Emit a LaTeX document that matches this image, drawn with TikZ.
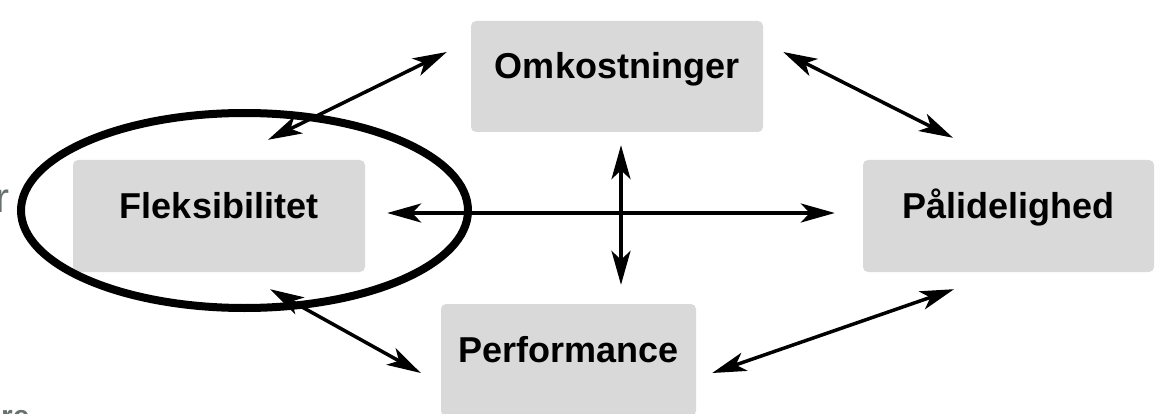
\documentclass[tikz,border=0pt]{standalone}
\usepackage{fontspec}
\setmainfont{Liberation Sans}
\usepackage{tikz}
\usetikzlibrary{arrows.meta, positioning}
\usepackage{xcolor}
\definecolor{boxgray}{RGB}{217,217,217}
\definecolor{edgegray}{RGB}{105,112,112}
\tikzset{%
	every factor/.style={
		rectangle,
		rounded corners=5pt,
		fill=boxgray,
		font=\fontsize{36}{40}\selectfont\bfseries,
		text height=0.75em,
		text depth=0.3em,
		inner sep=0pt
	},
	link/.style={
		<->,
		line width=3.5pt
	},
	ring/.style={
		draw,
		line width=8pt
	},
	cut text/.style={
		text=edgegray,
		inner sep=0pt
	},
}
\begin{document}
\begin{tikzpicture}[x=1pt, y=-1pt, >={Stealth[length=34pt, width=19pt, inset=9pt]}]
			
			\useasboundingbox (0,0) rectangle (1158,414);
			
			\node [every factor, minimum width=292pt, minimum height=111pt] (omk) at (617,76.5) {Omkostninger};
			\node [every factor, minimum width=292pt, minimum height=112pt] (flex) at (219,216) {Fleksibilitet};
			\node [every factor, minimum width=291pt, minimum height=112pt] (pal) at (1008.5,216) {Pålidelighed};
			\node [every factor, minimum width=255pt, minimum height=112pt] (perf) at (568.5,360) {Performance};
			
			% cut-off text at the left edge
			\node [cut text, anchor=base east, font=\fontsize{42}{46}\selectfont] (cut-r) at (10,212) {r};
			\node [cut text, anchor=north west, font=\fontsize{30}{34}\selectfont\bfseries] (cut-re) at (1,410) {re};
			
			\draw [link] ([shift={(49,-20)}]flex.north) -- ([shift={(-24,-24.5)}]omk.west);
			\draw [link] ([shift={(20,-24.5)}]omk.east) -- ([shift={(-55.5,-22)}]pal.north);
			\draw [link] ([shift={(22,-3)}]flex.east) -- ([shift={(-28,-3)}]pal.west);
			\draw [link] ([shift={(4,13)}]omk.south) -- ([shift={(52.5,-19)}]perf.north);
			\draw [link] ([shift={(51,17)}]flex.south) -- ([shift={(-20,13)}]perf.west);
			\draw [link] ([shift={(16,13)}]perf.east) -- ([shift={(-54.5,17)}]pal.south);
			
			\draw [ring] ([shift={(25.5,-5.5)}]flex.center) ellipse [x radius=223.5pt, y radius=97.5pt];
			
		\end{tikzpicture}
\end{document}
